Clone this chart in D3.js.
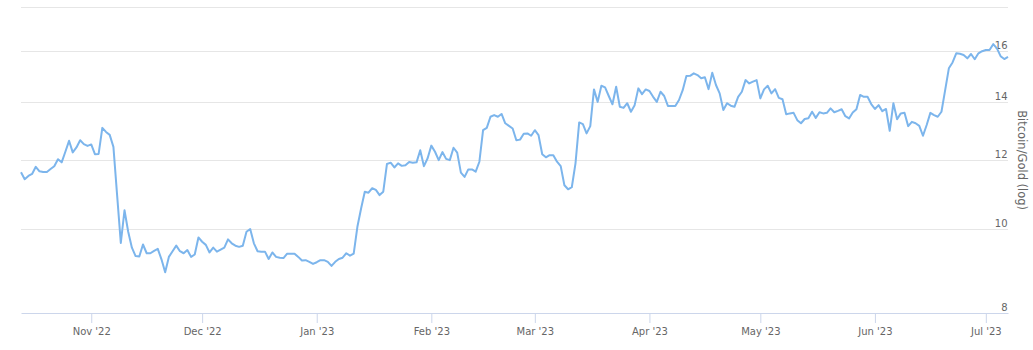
<!DOCTYPE html>
<html>
<head>
<meta charset="utf-8">
<script src="https://cdn.jsdelivr.net/npm/d3@7"></script>
<style>
  body { margin: 0; background: #ffffff; }
  .grid line { stroke: #e6e6e6; stroke-width: 1; }
  .tick-label { font-family: "DejaVu Sans", sans-serif; font-size: 10px; fill: #666666; }
</style>
</head>
<body>
<div id="chart"></div>
<script>

////////// Data ///////////

// first observation, one value per day after that
var start_date = "2022-10-13";

// Bitcoin price in ounces of gold
var ratio_values = [
  11.62, 11.41, 11.51, 11.57, 11.79, 11.65, 11.63, 11.63, 11.72, 11.81,
  12.03, 11.93, 12.27, 12.63, 12.25, 12.41, 12.65, 12.52, 12.46, 12.51,
  12.19, 12.20, 13.07, 12.93, 12.83, 12.43, 10.94, 9.64, 10.51, 9.93,
  9.52, 9.31, 9.30, 9.60, 9.38, 9.38, 9.44, 9.49, 9.23, 8.92,
  9.29, 9.43, 9.57, 9.43, 9.38, 9.46, 9.29, 9.35, 9.78, 9.67,
  9.59, 9.40, 9.52, 9.42, 9.47, 9.52, 9.73, 9.63, 9.57, 9.54,
  9.57, 9.93, 10.00, 9.63, 9.43, 9.42, 9.42, 9.24, 9.40, 9.29,
  9.27, 9.26, 9.37, 9.37, 9.37, 9.29, 9.20, 9.21, 9.17, 9.12,
  9.16, 9.21, 9.21, 9.17, 9.07, 9.17, 9.24, 9.27, 9.38, 9.32,
  9.37, 10.06, 10.56, 11.04, 11.01, 11.14, 11.09, 10.94, 11.04, 11.88,
  11.92, 11.77, 11.90, 11.82, 11.84, 11.94, 11.92, 11.93, 12.32, 11.81,
  12.06, 12.47, 12.27, 12.00, 12.26, 12.04, 12.00, 12.40, 12.24, 11.61,
  11.48, 11.71, 11.71, 11.64, 11.95, 12.99, 13.07, 13.46, 13.52, 13.46,
  13.56, 13.23, 13.14, 13.05, 12.65, 12.67, 12.87, 12.88, 12.80, 12.99,
  12.82, 12.19, 12.09, 12.16, 12.16, 11.95, 11.81, 11.23, 11.11, 11.17,
  11.90, 13.26, 13.20, 12.88, 13.13, 14.47, 14.00, 14.61, 14.55, 14.22,
  13.91, 14.57, 13.82, 13.78, 13.95, 13.64, 13.88, 14.51, 14.29, 14.47,
  14.41, 14.19, 14.00, 14.38, 14.22, 13.85, 13.85, 13.85, 14.07, 14.44,
  14.99, 15.00, 15.10, 15.03, 14.90, 14.94, 14.48, 15.12, 14.64, 14.32,
  13.70, 13.95, 13.86, 13.82, 14.19, 14.38, 14.83, 14.70, 14.77, 14.83,
  14.13, 14.47, 14.61, 14.32, 14.48, 14.15, 14.10, 13.55, 13.58, 13.60,
  13.34, 13.23, 13.38, 13.41, 13.64, 13.42, 13.62, 13.58, 13.60, 13.76,
  13.62, 13.67, 13.73, 13.48, 13.40, 13.61, 13.73, 14.26, 14.19, 14.19,
  13.92, 13.74, 13.88, 13.66, 13.74, 12.97, 13.95, 13.37, 13.58, 13.60,
  13.13, 13.28, 13.23, 13.14, 12.80, 13.17, 13.60, 13.52, 13.46, 13.64,
  14.44, 15.30, 15.54, 15.92, 15.90, 15.85, 15.71, 15.89, 15.67, 15.92,
  16.01, 16.06, 16.06, 16.31, 16.13, 15.80, 15.68, 15.77
];

var y_ticks = [8, 10, 12, 14, 16, 18];
var y_domain = [8, 18];
var y_title = "Bitcoin/Gold (log)";

////////// Draw chart ///////////

var width = 1033, height = 350;
var plot = { left: 21, right: 1008, top: 6.9, bottom: 313.4 };

var first_day = d3.timeParse("%Y-%m-%d")(start_date);
var data = ratio_values.map(function(v, i) {
  return { date: d3.timeDay.offset(first_day, i), value: v };
});

var x = d3.scaleTime()
  .domain(d3.extent(data, function(d) { return d.date; }))
  .range([plot.left, plot.right]);

var y = d3.scaleLog()
  .domain(y_domain)
  .range([plot.bottom, plot.top]);

var svg = d3.select("div#chart")
  .append("svg")
  .attr("width", width)
  .attr("height", height);

// horizontal grid lines (18 has a line but no label)
svg.append("g")
  .attr("class", "grid")
  .selectAll("line")
  .data(y_ticks.slice(1))
  .enter().append("line")
  .attr("x1", plot.left)
  .attr("x2", plot.right)
  .attr("y1", function(d) { return Math.round(y(d)) + 0.5; })
  .attr("y2", function(d) { return Math.round(y(d)) + 0.5; });

// y labels sit inside the plot, right aligned just above each line
svg.append("g")
  .selectAll("text")
  .data(y_ticks.slice(0, -1))
  .enter().append("text")
  .attr("class", "tick-label")
  .attr("x", plot.right - 0.5)
  .attr("y", function(d) { return Math.round(y(d)) - 2; })
  .attr("text-anchor", "end")
  .text(function(d) { return d; });

// y axis title on the right
svg.append("text")
  .attr("transform", "translate(" + 1018 + "," + ((plot.top + plot.bottom) / 2) + ") rotate(90)")
  .attr("text-anchor", "middle")
  .style("font-family", "DejaVu Sans, sans-serif")
  .style("font-size", "11.5px")
  .style("fill", "#666666")
  .text(y_title);

// x axis: month ticks hanging below the base line
var x_axis = d3.axisBottom(x)
  .ticks(d3.timeMonth.every(1))
  .tickFormat(d3.timeFormat("%b '%y"))
  .tickSize(10)
  .tickSizeOuter(0);

var gx = svg.append("g")
  .attr("transform", "translate(0," + Math.round(plot.bottom) + ")")
  .call(x_axis);

gx.select(".domain").attr("stroke", "#ccd6eb");
gx.selectAll(".tick line").attr("stroke", "#ccd6eb");
gx.selectAll(".tick text")
  .attr("class", "tick-label")
  .attr("y", 15)
  .attr("dy", "0.71em");

// the ratio line
var line = d3.line()
  .x(function(d) { return x(d.date); })
  .y(function(d) { return y(d.value); });

svg.append("path")
  .datum(data)
  .attr("fill", "none")
  .attr("stroke", "#7cb5ec")
  .attr("stroke-width", 2)
  .attr("stroke-linejoin", "round")
  .attr("d", line);

</script>
</body>
</html>
